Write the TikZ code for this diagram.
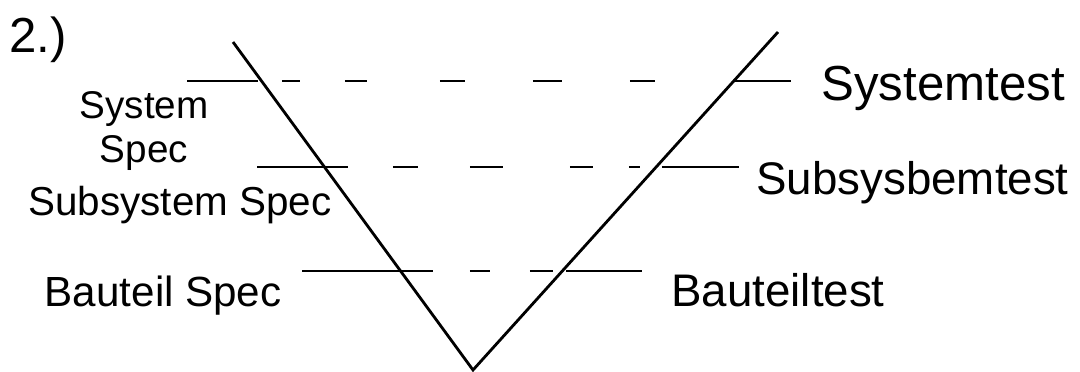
\documentclass[tikz,border=0pt]{standalone}
\usepackage{fontspec}
\setmainfont{Liberation Sans}
\usetikzlibrary{positioning}
\tikzset{
  every picture/.style={line width=1.6pt},
  vline/.style={draw=black, line join=miter},
  rung/.style={draw=black, line width=1.5pt},
  lbl/.style={inner sep=0pt, font=\fontsize{24}{28}\selectfont},
  lblR/.style={lbl, anchor=base west, font=\fontsize{26}{30}\selectfont},
  lblL/.style={lbl, anchor=base east},
}

\begin{document}
\begin{tikzpicture}[x=0.02cm, y=-0.02cm]
  \useasboundingbox (0,0) rectangle (1080,372);

  % the V
  \coordinate (vtl) at (233,42);
  \coordinate (vb)  at (473,370);
  \coordinate (vtr) at (778,32);
  \draw[vline] (vtl) -- (vb) -- (vtr);

  % rung ends
  \coordinate (r1l) at (187,81);  \coordinate (r1r) at (791,81);
  \coordinate (r2l) at (257,167); \coordinate (r2r) at (739,167);
  \coordinate (r3l) at (302,271); \coordinate (r3r) at (642,271);

  \draw[rung, dash pattern=on 1.42cm off 0.48cm on 0.36cm off 0.9cm on 0.44cm off 1.46cm on 0.5cm off 1.36cm on 0.58cm off 1.36cm on 0.5cm off 1.56cm on 1.16cm] (r1l) -- (r1r);
  \draw[rung, dash pattern=on 1.82cm off 0.9cm on 0.5cm off 1.04cm on 0.66cm off 1.34cm on 0.46cm off 0.72cm on 0.22cm off 0.44cm on 1.54cm] (r2l) -- (r2r);
  \draw[rung, dash pattern=on 2.62cm off 0.74cm on 0.4cm off 0.8cm on 0.46cm off 0.26cm on 1.52cm] (r3l) -- (r3r);

  % labels
  \node[lbl, anchor=base west, font=\fontsize{28}{32}\selectfont] (nr) at (8,52) {2.)};
  \node[lbl, anchor=north, align=center, font=\fontsize{22}{25}\selectfont] (sysspec) at (144,90) {System\\Spec};
  \node[lblL, font=\fontsize{23}{27}\selectfont] (subspec) at (333,215) {Subsystem Spec};
  \node[lblL] (btspec) at (283,306) {Bauteil Spec};

  \node[lblR, font=\fontsize{28}{32}\selectfont] (systest) at (820,100) {Systemtest};
  \node[lblR] (subtest) at (755,194) {Subsysbemtest};
  \node[lblR] (bttest) at (670,306) {Bauteiltest};
\end{tikzpicture}
\end{document}
